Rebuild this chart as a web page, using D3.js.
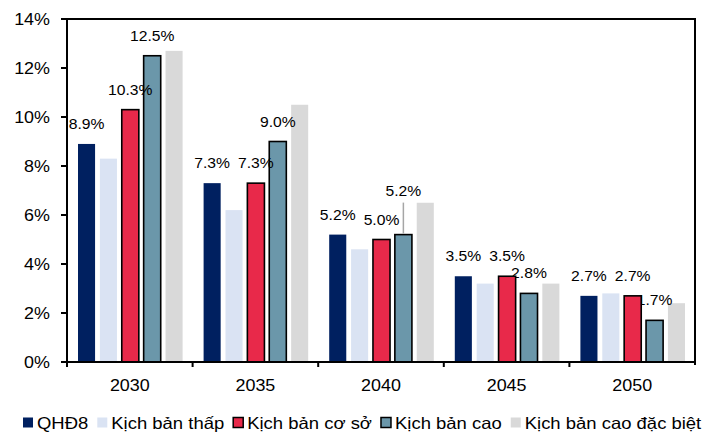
<!DOCTYPE html>
<html>
<head>
<meta charset="utf-8">
<script src="https://cdn.jsdelivr.net/npm/d3@7"></script>
<style>
  body { margin: 0; background: #fff; }
  text { font-family: "Liberation Sans", Arial, sans-serif; fill: #000; }
</style>
</head>
<body>
<script>
const years = ["2030", "2035", "2040", "2045", "2050"];
const seriesNames = ["QHĐ8", "Kịch bản thấp", "Kịch bản cơ sở", "Kịch bản cao", "Kịch bản cao đặc biệt"];
const qhd8 = [8.9, 7.3, 5.2, 3.5, 2.7];
const thap = [8.3, 6.2, 4.6, 3.2, 2.8];
const coSo = [10.3, 7.3, 5.0, 3.5, 2.7];
const cao = [12.5, 9.0, 5.2, 2.8, 1.7];
const dacBiet = [12.7, 10.5, 6.5, 3.2, 2.4];
const yTicks = [0, 2, 4, 6, 8, 10, 12, 14];

const colors = ["#002060", "#dae3f3", "#e8294a", "#6b97aa", "#d9d9d9"];
const outlined = [false, false, true, true, false];
const labelled = [true, false, true, true, false];

const series = [qhd8, thap, coSo, cao, dacBiet].map((values, i) => ({
    name: seriesNames[i], values, color: colors[i], outlined: outlined[i], labelled: labelled[i]
}));

const W = 712, H = 434;
const margin = {top: 19, right: 17, bottom: 72, left: 67};
const width = W - margin.left - margin.right,
      height = H - margin.top - margin.bottom;
const SX = 1.12; // horizontal stretch of the text in the original

const svg = d3.select("body").append("svg")
    .attr("width", W).attr("height", H);
const g = svg.append("g")
    .attr("transform", "translate(" + margin.left + "," + margin.top + ")");

const x = d3.scaleBand().domain(years).range([0, width]).paddingInner(0).paddingOuter(0);
const x1 = d3.scaleBand().domain(d3.range(series.length)).range([11, x.bandwidth() - 10]).paddingInner(0.22);
const y = d3.scaleLinear().domain([0, 14]).range([height, 0]);

function stext(sel, tx, ty, str, size, anchor) {
    return sel.append("text")
        .attr("transform", "translate(" + tx + "," + ty + ") scale(" + SX + ",1)")
        .attr("text-anchor", anchor)
        .style("font-size", size + "px")
        .text(str);
}

// bars and labels; the original paints the last series first
series.slice().reverse().forEach(s => {
    const si = series.indexOf(s);
    const sg = g.append("g");
    s.values.forEach((v, ci) => {
        const bx = x(years[ci]) + x1(si);
        sg.append("rect")
            .attr("x", bx).attr("y", y(v))
            .attr("width", x1.bandwidth()).attr("height", height - y(v))
            .attr("fill", s.color)
            .attr("stroke", s.outlined ? "#000" : "none")
            .attr("stroke-width", s.outlined ? 1.6 : 0);
    });
    if (s.labelled) {
        s.values.forEach((v, ci) => {
            const cx = x(years[ci]) + x1(si) + x1.bandwidth() / 2;
            let ly = y(v) - 15;
            // 2040 "Kịch bản cao" label is lifted with a leader line
            if (si === 3 && ci === 2) {
                ly -= 24;
                sg.append("line")
                    .attr("x1", cx).attr("x2", cx)
                    .attr("y1", ly + 7).attr("y2", y(v) - 1)
                    .attr("stroke", "#a6a6a6").attr("stroke-width", 1.5);
            }
            stext(sg, cx, ly, v.toFixed(1) + "%", 14, "middle");
        });
    }
});

// frame
g.append("path")
    .attr("d", "M0,0H" + width + "V" + (height + 3))
    .attr("fill", "none").attr("stroke", "#000").attr("stroke-width", 2);

// y axis
g.append("line").attr("x1", 0).attr("x2", 0).attr("y1", 0).attr("y2", height)
    .attr("stroke", "#000").attr("stroke-width", 2);
yTicks.forEach(t => {
    g.append("line").attr("x1", -6).attr("x2", 0).attr("y1", y(t)).attr("y2", y(t))
        .attr("stroke", "#000").attr("stroke-width", 2);
    stext(g, -17, y(t) + 5.5, t + "%", 16, "end");
});

// x axis
g.append("line").attr("x1", -6).attr("x2", width).attr("y1", height).attr("y2", height)
    .attr("stroke", "#000").attr("stroke-width", 2);
years.forEach((yr, i) => {
    const bx = x(yr);
    g.append("line").attr("x1", bx).attr("x2", bx).attr("y1", height).attr("y2", height + 5)
        .attr("stroke", "#000").attr("stroke-width", 2);
    stext(g, bx + x.bandwidth() / 2, height + 29, yr, 16, "middle");
});

// legend
const leg = svg.append("g").attr("transform", "translate(23,423)");
let lx = 0;
series.forEach(s => {
    leg.append("rect")
        .attr("x", lx).attr("y", -5.5).attr("width", 10).attr("height", 10)
        .attr("fill", s.color)
        .attr("stroke", s.outlined ? "#000" : "none")
        .attr("stroke-width", s.outlined ? 1.5 : 0);
    const t = stext(leg, lx + 14, 5.5, s.name, 16.5, "start");
    lx += 14 + t.node().getComputedTextLength() * SX + 9;
});
</script>
</body>
</html>
